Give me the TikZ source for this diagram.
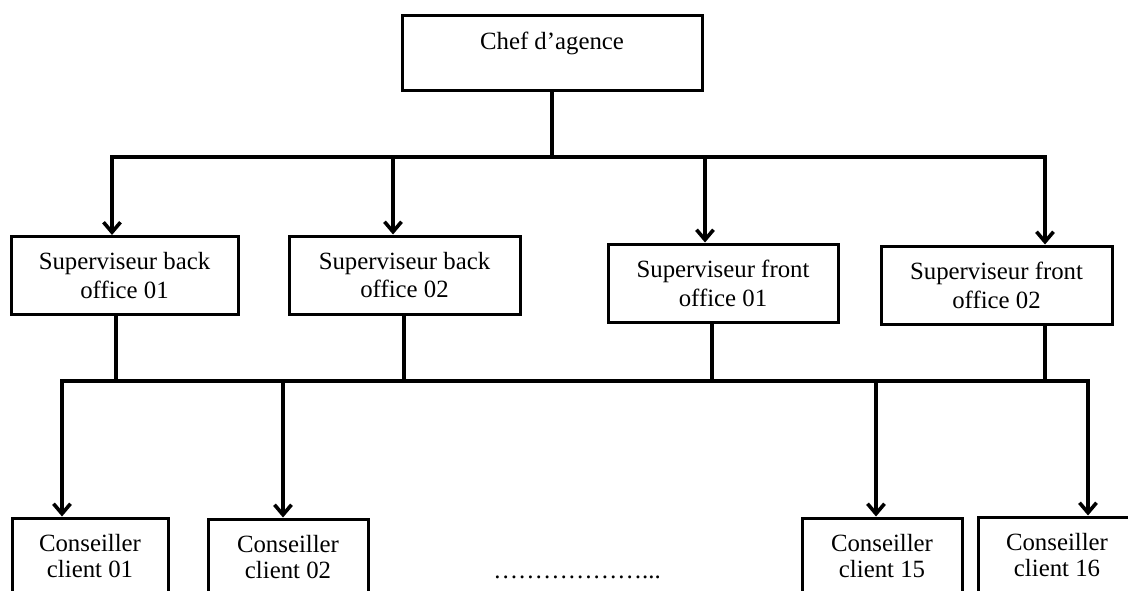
\documentclass[tikz,border=0pt]{standalone}
\usepackage{fontspec}
\setmainfont{Liberation Serif}
\usetikzlibrary{arrows.meta}
\begin{document}
\begin{tikzpicture}[x=0.5pt, y=-0.5pt,
chefnode/.style={rectangle, draw=black, line width=1.5pt, minimum width=150pt, inner sep=0pt, text height=17pt, text depth=20.5pt, font=\fontsize{12.4}{13.5}\selectfont},
supnode/.style={rectangle, draw=black, line width=1.5pt, minimum height=39pt, inner sep=0pt, align=center, font=\fontsize{12.4}{14.4}\selectfont},
agentnode/.style={rectangle, draw=black, line width=1.5pt, minimum height=38pt, inner sep=0pt, align=center, font=\fontsize{12.4}{13.2}\selectfont},
link/.style={line width=1.8pt},
arrowlink/.style={line width=1.8pt, -{Straight Barb[length=5pt, width=8.5pt]}},
]
\clip (0,0) rectangle (1128,590);
%Nodes
\node[chefnode]                        (chef)    at (552,52.5) {Chef d’agence};
\node[supnode, minimum width=113.5pt]  (sup1)    at (124.5,275.5) {Superviseur back\\office 01};
\node[supnode, minimum width=115.5pt]  (sup2)    at (404.5,275) {Superviseur back\\office 02};
\node[supnode, minimum width=115pt]    (sup3)    at (723,283) {Superviseur front\\office 01};
\node[supnode, minimum width=115.5pt]  (sup4)    at (996.5,285) {Superviseur front\\office 02};
\node[agentnode, minimum width=78pt]   (agent1)  at (90,556) {Conseiller\\client 01};
\node[agentnode, minimum width=80pt]   (agent2)  at (288,557) {Conseiller\\client 02};
\node[agentnode, minimum width=80pt]   (agent15) at (882,556) {Conseiller\\client 15};
\node[agentnode, minimum width=79pt]   (agent16) at (1057,555) {Conseiller\\client 16};
\node[anchor=base west, inner sep=0pt, font=\fontsize{12.4}{13.5}\selectfont] (dots) at (493,578) {………………...};

%Bus points
\coordinate (topbus) at (552,157);
\coordinate (top1)   at (112,157);
\coordinate (top2)   at (393,157);
\coordinate (top3)   at (705,157);
\coordinate (top4)   at (1045,157);
\coordinate (bot1)   at (116,381);
\coordinate (bot2)   at (404,381);
\coordinate (bot3)   at (712,381);
\coordinate (bot4)   at (1045,381);
\coordinate (low1)   at (62,381);
\coordinate (low2)   at (283,381);
\coordinate (low15)  at (876,381);
\coordinate (low16)  at (1088,381);

%Lines
\draw[link] (chef.south) -- (topbus);
\draw[arrowlink] (topbus) -| (top1 |- sup1.north);
\draw[arrowlink] (topbus) -| (top4 |- sup4.north);
\draw[arrowlink] (top2) -- (top2 |- sup2.north);
\draw[arrowlink] (top3) -- (top3 |- sup3.north);
\draw[link] (sup1.south -| bot1) -- (bot1);
\draw[link] (sup2.south -| bot2) -- (bot2);
\draw[link] (sup3.south -| bot3) -- (bot3);
\draw[link] (sup4.south -| bot4) -- (bot4);
\draw[link] (bot1) -- (bot4);
\draw[arrowlink] (bot1) -| (low1 |- agent1.north);
\draw[arrowlink] (bot4) -| (low16 |- agent16.north);
\draw[arrowlink] (low2) -- (low2 |- agent2.north);
\draw[arrowlink] (low15) -- (low15 |- agent15.north);
%\draw[->] (bot3) -- (agent15.north);
\end{tikzpicture}
\end{document}
